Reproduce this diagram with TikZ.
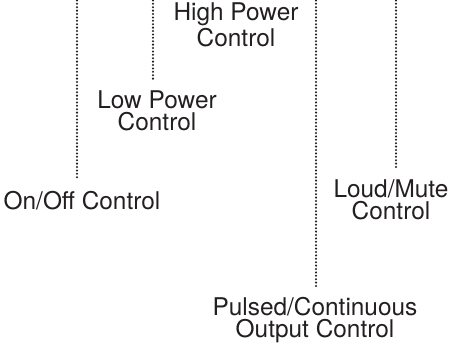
\documentclass[tikz,border=0pt]{standalone}
\usepackage{fontspec}
\setmainfont{TeX Gyre Heros}
\usepackage{xcolor}
\definecolor{inkgrey}{RGB}{35,31,32}
\tikzset{
  ctrl/.style={
    align=center,
    anchor=north,
    inner sep=0pt,
    font=\fontsize{12.2}{11}\selectfont,
    text=inkgrey
  },
  dotline/.style={draw=inkgrey, line width=1.15pt, line cap=round, dash pattern=on 0pt off 1.7pt, shorten >=5pt},
}
\begin{document}
\begin{tikzpicture}[x=0.5pt,y=-0.5pt]
\useasboundingbox (0,0) rectangle (450,343);

% Control labels
\node[ctrl] (onoff) at (82,190.5) {On/Off Control};
\node[ctrl] (lowpower) at (157,90.5) {Low Power\\Control};
\node[ctrl] (highpower) at (236,2.8) {High Power\\Control};
\node[ctrl] (pulsed) at (315,297) {Pulsed/Continuous\\Output Control};
\node[ctrl] (loudmute) at (391,179.5) {Loud/Mute\\Control};

% Leads coming down from above the cut
\coordinate (ontop) at (77,-3);
\coordinate (lowtop) at (153,-3);
\coordinate (pulsedtop) at (316,-3);
\coordinate (loudtop) at (396,-3);

\draw[dotline] (ontop) -- (ontop |- onoff.north);
\draw[dotline] (lowtop) -- (lowtop |- lowpower.north);
\draw[dotline] (pulsedtop) -- (pulsedtop |- pulsed.north);
\draw[dotline] (loudtop) -- (loudtop |- loudmute.north);

\end{tikzpicture}
\end{document}
